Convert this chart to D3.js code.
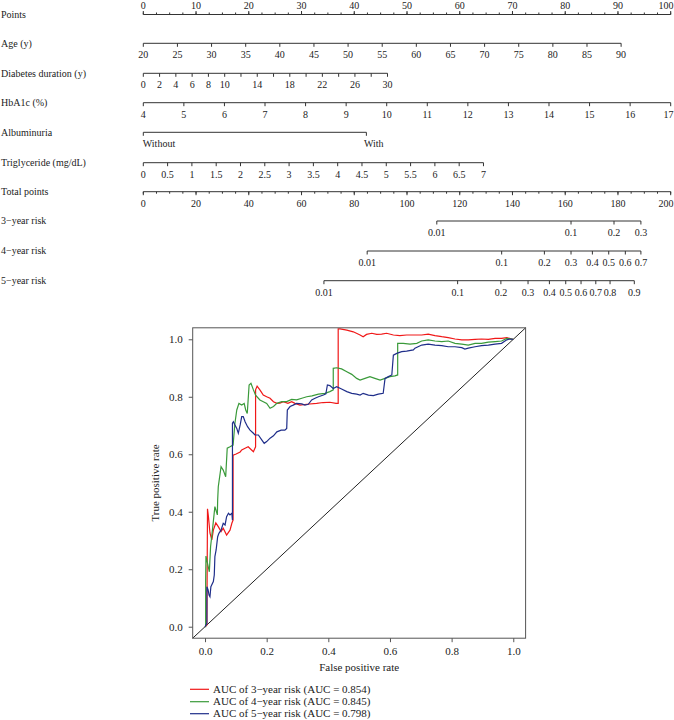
<!DOCTYPE html>
<html><head><meta charset="utf-8">
<script src="https://cdn.jsdelivr.net/npm/d3@7/dist/d3.min.js"></script>
<style>body{margin:0;background:#fff}svg{display:block}text{font-family:"Liberation Serif","DejaVu Serif",serif;fill:#222}</style>
</head><body><svg id="c" width="674" height="720"></svg>
<script>
// ---------- nomogram data ----------
const rowLabels = ["Points","Age (y)","Diabetes duration (y)","HbA1c (%)","Albuminuria","Triglyceride (mg/dL)","Total points","3\u2212year risk","4\u2212year risk","5\u2212year risk"];
const pointsLabels = [0,10,20,30,40,50,60,70,80,90,100];
const pointsMinor = d3.range(0, 100.01, 2.5);
const ageTicks = [20,25,30,35,40,45,50,55,60,65,70,75,80,85,90];
const agePoints = [0, 90.6];
const durationTicks = [0,2,4,6,8,10,12,14,16,18,20,22,24,26,28,30];
const durationLabels = [0,2,4,6,8,10,14,18,22,26,30];
const durationPoints = [0, 46.3];
const hba1cTicks = [4,5,6,7,8,9,10,11,12,13,14,15,16,17];
const hba1cPoints = [0, 100];
const albuminuriaLevels = ["Without","With"];
const albuminuriaPoints = [0, 42.3];
const tgTicks = [0,0.5,1,1.5,2,2.5,3,3.5,4,4.5,5,5.5,6,6.5,7];
const tgPoints = [0, 64.5];
const totalLabels = [0,20,40,60,80,100,120,140,160,180,200];
const totalMinor = d3.range(0, 200.01, 5);
const risk3Ticks = [0.01,0.1,0.2,0.3];
const risk3Total = [111.3,162.2,178.5,188.7];
const risk4Ticks = [0.01,0.1,0.2,0.3,0.4,0.5,0.6,0.7];
const risk4Total = [84.9,135.9,152.1,162.2,170.3,176.5,182.8,188.7];
const risk5Ticks = [0.01,0.1,0.2,0.3,0.4,0.5,0.6,0.7,0.8,0.9];
const risk5Total = [68.5,119.2,135.6,145.9,154.0,160.2,166.0,171.6,177.0,186.2];

// ---------- ROC data ----------
const seriesNames = ["AUC of 3\u2212year risk (AUC = 0.854)","AUC of 4\u2212year risk (AUC = 0.845)","AUC of 5\u2212year risk (AUC = 0.798)"];
const seriesColors = ["#f01818","#3a9a3a","#1f2e8a"];
const roc3 = [[0,0],[0.006,0.006],[0.008,0.41],[0.011,0.383],[0.016,0.326],[0.022,0.302],[0.027,0.336],[0.035,0.361],[0.043,0.348],[0.052,0.331],[0.059,0.343],[0.070,0.319],[0.081,0.336],[0.087,0.360],[0.091,0.371],[0.091,0.597],[0.101,0.601],[0.114,0.608],[0.119,0.615],[0.130,0.621],[0.140,0.626],[0.151,0.615],[0.157,0.609],[0.164,0.626],[0.164,0.824],[0.169,0.837],[0.178,0.824],[0.189,0.806],[0.200,0.800],[0.211,0.795],[0.222,0.783],[0.233,0.777],[0.243,0.778],[0.254,0.783],[0.269,0.777],[0.281,0.783],[0.292,0.777],[0.308,0.771],[0.330,0.774],[0.362,0.777],[0.383,0.780],[0.405,0.781],[0.425,0.777],[0.432,0.777],[0.432,1.036],[0.438,1.036],[0.460,1.032],[0.481,1.026],[0.503,1.015],[0.513,1.009],[0.524,1.017],[0.541,1.021],[0.557,1.017],[0.573,1.018],[0.589,1.021],[0.611,1.015],[0.632,1.013],[0.654,1.015],[0.676,1.015],[0.703,1.015],[0.724,1.018],[0.746,1.013],[0.768,1.009],[0.789,1.006],[0.811,1.001],[0.833,0.998],[0.854,0.998],[0.876,1.000],[0.897,1.001],[0.919,1.000],[0.941,1.003],[0.962,1.003],[0.979,1.006],[0.995,1.001],[1,1]];
const roc4 = [[0,0],[0.002,0.0],[0.002,0.16],[0.003,0.246],[0.014,0.191],[0.018,0.278],[0.024,0.336],[0.032,0.418],[0.040,0.389],[0.041,0.441],[0.043,0.487],[0.052,0.557],[0.059,0.545],[0.067,0.522],[0.072,0.621],[0.081,0.626],[0.091,0.632],[0.097,0.708],[0.103,0.754],[0.110,0.777],[0.119,0.771],[0.127,0.777],[0.132,0.754],[0.137,0.742],[0.143,0.841],[0.149,0.847],[0.157,0.824],[0.164,0.806],[0.178,0.789],[0.189,0.783],[0.200,0.777],[0.211,0.760],[0.222,0.766],[0.233,0.777],[0.249,0.783],[0.265,0.783],[0.281,0.791],[0.297,0.789],[0.314,0.795],[0.330,0.800],[0.347,0.803],[0.368,0.809],[0.389,0.812],[0.405,0.818],[0.416,0.824],[0.416,0.899],[0.427,0.901],[0.443,0.897],[0.460,0.887],[0.476,0.878],[0.492,0.864],[0.503,0.858],[0.519,0.864],[0.535,0.870],[0.551,0.864],[0.568,0.858],[0.584,0.864],[0.600,0.870],[0.616,0.873],[0.625,0.876],[0.625,0.986],[0.643,0.986],[0.665,0.983],[0.687,0.986],[0.703,0.994],[0.724,0.998],[0.746,0.994],[0.768,0.992],[0.789,0.994],[0.811,0.986],[0.833,0.983],[0.854,0.980],[0.876,0.986],[0.897,0.986],[0.919,0.990],[0.941,0.992],[0.962,0.994],[0.979,1.003],[0.995,1.001],[1,1]];
const roc5 = [[0,0],[0.006,0.012],[0.006,0.139],[0.010,0.128],[0.013,0.110],[0.016,0.104],[0.019,0.139],[0.027,0.157],[0.030,0.180],[0.032,0.244],[0.036,0.267],[0.041,0.313],[0.045,0.325],[0.052,0.336],[0.059,0.360],[0.065,0.354],[0.070,0.383],[0.076,0.395],[0.081,0.389],[0.087,0.395],[0.089,0.371],[0.089,0.708],[0.092,0.713],[0.097,0.702],[0.103,0.690],[0.108,0.673],[0.114,0.702],[0.119,0.731],[0.124,0.731],[0.130,0.713],[0.138,0.696],[0.146,0.684],[0.157,0.673],[0.162,0.667],[0.173,0.667],[0.184,0.650],[0.192,0.638],[0.200,0.644],[0.211,0.656],[0.222,0.664],[0.233,0.678],[0.247,0.684],[0.259,0.684],[0.265,0.690],[0.267,0.754],[0.276,0.766],[0.286,0.771],[0.297,0.777],[0.314,0.775],[0.324,0.771],[0.335,0.774],[0.346,0.789],[0.357,0.795],[0.368,0.800],[0.384,0.806],[0.392,0.810],[0.397,0.841],[0.405,0.839],[0.416,0.829],[0.427,0.835],[0.443,0.827],[0.460,0.818],[0.476,0.812],[0.492,0.809],[0.503,0.806],[0.513,0.812],[0.530,0.806],[0.546,0.804],[0.562,0.809],[0.578,0.812],[0.584,0.864],[0.595,0.870],[0.606,0.876],[0.611,0.945],[0.622,0.951],[0.638,0.957],[0.654,0.959],[0.676,0.963],[0.681,0.969],[0.703,0.980],[0.724,0.983],[0.746,0.980],[0.768,0.978],[0.789,0.974],[0.811,0.974],[0.833,0.971],[0.843,0.966],[0.854,0.969],[0.876,0.974],[0.897,0.978],[0.919,0.980],[0.941,0.983],[0.962,0.986],[0.979,0.998],[0.989,1.001],[1,1]];
const rocSeries = [roc3, roc4, roc5];
const rocXTicks = [0,0.2,0.4,0.6,0.8,1.0];
const rocYTicks = [0,0.2,0.4,0.6,0.8,1.0];

// ---------- drawing ----------
const svg = d3.select("#c");
svg.append("rect").attr("width",674).attr("height",720).attr("fill","#fff");
const ink = "#333";
const W = 674;
const rowY = [14.5,43.3,73.3,102.7,132.3,162.7,191.7,221,251,280.7];
const pts = d3.scaleLinear().domain([0,100]).range([143.3,670.7]);
const tot = d3.scaleLinear().domain([0,200]).range([143.3,670.7]);
const nom = svg.append("g");

rowLabels.forEach((t,i)=>{
  nom.append("text").attr("x",1).attr("y",rowY[i]).attr("dy","0.33em")
    .attr("font-size",10).text(t);
});

function hline(y,x1,x2){ nom.append("line").attr("x1",x1).attr("x2",x2).attr("y1",y).attr("y2",y).attr("stroke",ink).attr("stroke-width",1); }
function tick(x,y,len){ nom.append("line").attr("x1",x).attr("x2",x).attr("y1",y).attr("y2",y+len).attr("stroke",ink).attr("stroke-width",1); }
function lab(x,y,t,anchor){
  const el = nom.append("text").attr("x",x).attr("y",y).attr("font-size",10).attr("text-anchor",anchor||"middle").text(t);
  const bb = el.node().getBBox();
  if (bb.x + bb.width > W - 0.5) el.attr("text-anchor","end").attr("x", W - 0.5);
  return el;
}

// Points axis (labels above)
hline(rowY[0], pts(0), pts(100));
pointsMinor.forEach(v=>tick(pts(v),rowY[0],-2));
pointsLabels.forEach(v=>{ tick(pts(v),rowY[0],-3.5); lab(pts(v),rowY[0]-5.8,v); });

// generic variable axis
function varAxis(i, ticks, labels, dom, prange){
  const s = d3.scaleLinear().domain(dom).range(prange.map(p=>pts(p)));
  const y = rowY[i];
  hline(y, s(dom[0]), s(dom[1]));
  ticks.forEach(v=>tick(s(v),y,3.5));
  labels.forEach(v=>lab(s(v),y+15,String(v)));
}
varAxis(1, ageTicks, ageTicks, [20,90], agePoints);
varAxis(2, durationTicks, durationLabels, [0,30], durationPoints);
varAxis(3, hba1cTicks, hba1cTicks, [4,17], hba1cPoints);
// albuminuria
(function(){
  const y=rowY[4];
  const xs = albuminuriaPoints.map(p=>pts(p));
  hline(y, xs[0], xs[1]);
  albuminuriaLevels.forEach((t,k)=>{ tick(xs[k],y,3.5); lab(xs[k]-(k?2.5:0.5),y+15,t,"start"); });
})();
varAxis(5, tgTicks, tgTicks, [0,7], tgPoints);
// total points
hline(rowY[6], tot(0), tot(200));
totalMinor.forEach(v=>tick(tot(v),rowY[6],2));
totalLabels.forEach(v=>{ tick(tot(v),rowY[6],3.5); lab(tot(v),rowY[6]+15,v); });
// risk axes
[[risk3Ticks,risk3Total],[risk4Ticks,risk4Total],[risk5Ticks,risk5Total]].forEach(([tk,tp],k)=>{
  const y=rowY[7+k];
  hline(y, tot(tp[0]), tot(tp[tp.length-1]));
  tk.forEach((v,j)=>{ tick(tot(tp[j]),y,3.5); lab(tot(tp[j]),y+15,String(v)); });
});

// ---------- ROC ----------
const x = d3.scaleLinear().domain([-0.04,1.04]).range([192.7,525.6]);
const y = d3.scaleLinear().domain([-0.04,1.04]).range([638.2,327.8]);
const roc = svg.append("g");
roc.append("line").attr("x1",x(-0.04)).attr("y1",y(-0.04)).attr("x2",x(1.04)).attr("y2",y(1.04))
  .attr("stroke","#222").attr("stroke-width",1);
const line = d3.line().x(d=>x(d[0])).y(d=>y(d[1]));
rocSeries.forEach((s,k)=>{
  roc.append("path").attr("d",line(s)).attr("fill","none").attr("stroke",seriesColors[k]).attr("stroke-width",1.2);
});
roc.append("rect").attr("x",x(-0.04)).attr("y",y(1.04)).attr("width",x(1.04)-x(-0.04)).attr("height",y(-0.04)-y(1.04))
  .attr("fill","none").attr("stroke","#555").attr("stroke-width",1);
const gx = roc.append("g").attr("transform",`translate(0,${y(-0.04)})`)
  .call(d3.axisBottom(x).tickValues(rocXTicks).tickFormat(d3.format(".1f")).tickSize(4).tickSizeOuter(0));
gx.select(".domain").remove();
gx.selectAll("text").attr("font-size",11).attr("font-family","Liberation Serif").attr("fill","#222").attr("dy","0.9em");
gx.selectAll("line").attr("stroke","#555");
const gy = roc.append("g").attr("transform",`translate(${x(-0.04)},0)`)
  .call(d3.axisLeft(y).tickValues(rocYTicks).tickFormat(d3.format(".1f")).tickSize(4).tickSizeOuter(0));
gy.select(".domain").remove();
gy.selectAll("text").attr("font-size",11).attr("font-family","Liberation Serif").attr("fill","#222").attr("x",-10);
gy.selectAll("line").attr("stroke","#555");
roc.append("text").attr("x",(x(-0.04)+x(1.04))/2).attr("y",671).attr("text-anchor","middle").attr("font-size",11).text("False positive rate");
roc.append("text").attr("transform",`translate(159,${(y(-0.04)+y(1.04))/2}) rotate(-90)`).attr("text-anchor","middle").attr("font-size",11).text("True positive rate");
const legY = [689.3,701.7,713.7];
seriesNames.forEach((t,k)=>{
  roc.append("line").attr("x1",190).attr("x2",209).attr("y1",legY[k]).attr("y2",legY[k]).attr("stroke",seriesColors[k]).attr("stroke-width",1.2);
  roc.append("text").attr("x",213).attr("y",legY[k]).attr("dy","0.33em").attr("font-size",11).text(t);
});
</script></body></html>
